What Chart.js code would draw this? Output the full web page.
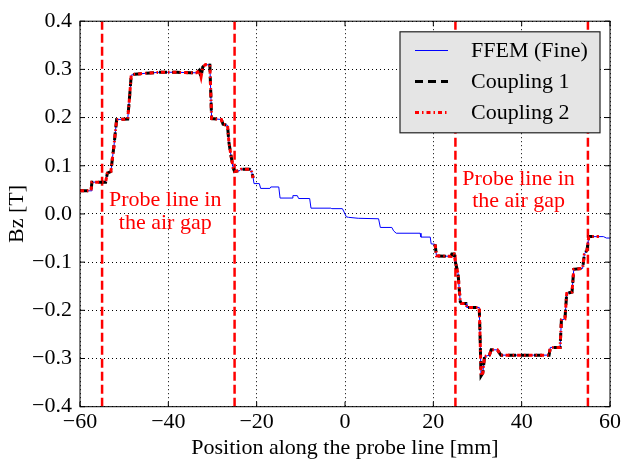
<!DOCTYPE html>
<html>
<head>
<meta charset="utf-8">
<script src="https://cdn.jsdelivr.net/npm/chart.js@4.4.0/dist/chart.umd.min.js"></script>
<style>
  html, body { margin: 0; padding: 0; background: #fff; }
  #wrap { width: 623px; height: 462px; }
</style>
</head>
<body>
<div id="wrap"><canvas id="bz"></canvas></div>
<script>
// FFEM (fine) reference curve
const ffemX = [-60, -57.5, -57.3, -54.2, -53.8, -53.0, -52.6, -52.3, -52.0, -51.7, -49.2, -48.8, -48.4, -47.6, -45, -42, -38, -35, -33.6, -33.0,
  -32.6, -32.2, -31.6, -30.6, -30.2, -28.0, -27.6, -26.6, -26.3, -25.8, -25.3, -25.0, -23.8, -23.5, -21.6, -21.2, -20.8, -20.6, -19.4, -19.1,
  -17.0, -16.8, -15.0, -14.7, -12.0, -11.8, -10.8, -10.5, -8.0, -7.7, -3.2, -3.0, -0.6, -0.2, 0.3, 0.8, 3.0, 7.6, 8.0, 10.6,
  11.0, 11.6, 17.0, 17.2, 19.3, 19.5, 20.4, 20.7, 24.0, 24.2, 24.7, 25.0, 25.6, 25.9, 26.1, 26.4, 27.4, 27.6, 30.4, 30.6,
  30.8, 31.2, 31.6, 32.7, 33.1, 34.5, 35.3, 46.2, 46.5, 48.7, 49.0, 49.8, 50.2, 51.4, 51.8, 53.8, 54.2, 54.8, 55.2, 58.5, 59.2, 60];
const ffemY = [0.048, 0.048, 0.066, 0.066, 0.085, 0.088, 0.12, 0.142, 0.17, 0.196, 0.197, 0.24, 0.288, 0.29, 0.292, 0.294, 0.294, 0.293, 0.293, 0.298,
  0.284, 0.305, 0.31, 0.309, 0.198, 0.196, 0.186, 0.184, 0.15, 0.12, 0.095, 0.088, 0.09, 0.093, 0.093, 0.09, 0.075, 0.063, 0.063, 0.053,
  0.053, 0.056, 0.056, 0.033, 0.033, 0.038, 0.038, 0.032, 0.032, 0.012, 0.012, 0.011, 0.011, 0.004, -0.006, -0.007, -0.009, -0.01, -0.028, -0.028,
  -0.035, -0.04, -0.04, -0.048, -0.048, -0.062, -0.063, -0.087, -0.088, -0.083, -0.083, -0.1, -0.124, -0.16, -0.182, -0.186, -0.186, -0.194, -0.194, -0.26,
  -0.336, -0.33, -0.296, -0.293, -0.282, -0.282, -0.293, -0.293, -0.277, -0.277, -0.22, -0.218, -0.165, -0.162, -0.115, -0.113, -0.083, -0.075, -0.047, -0.047, -0.05, -0.05];

// Coupling 1: only inside the two air-gap zones (null = gap)
const c1X = [-60, -57.5, -57.3, -54.2, -53.8, -53.0, -52.6, -52.3, -52.0, -51.7, -49.2, -48.8, -48.4, -47.6, -45, -42, -38, -35, -33.6, -33.0,
  -32.6, -32.2, -31.6, -30.6, -30.2, -28.0, -27.6, -26.6, -26.3, -25.8, -25.3, -25.0, -23.8, -23.5, -21.6, -21.2, -20.8, null,
  20.4, 20.7, 24.0, 24.2, 24.7, 25.0, 25.6, 25.9, 26.1, 26.4, 27.4, 27.6, 30.4, 30.6, 30.8, 31.2, 31.6, 32.7, 33.1, 34.5,
  35.3, 46.2, 46.5, 48.7, 49.0, 49.8, 50.2, 51.4, 51.8, 53.8, 54.2, 54.8, 55.2, 57.5];
const c1Y = [0.048, 0.048, 0.066, 0.066, 0.085, 0.088, 0.12, 0.142, 0.17, 0.196, 0.197, 0.24, 0.288, 0.29, 0.292, 0.294, 0.294, 0.293, 0.293, 0.298,
  0.284, 0.305, 0.31, 0.309, 0.198, 0.196, 0.186, 0.184, 0.15, 0.12, 0.095, 0.088, 0.09, 0.093, 0.093, 0.09, 0.075, null,
  -0.063, -0.087, -0.088, -0.083, -0.083, -0.1, -0.124, -0.16, -0.182, -0.186, -0.186, -0.194, -0.194, -0.26, -0.336, -0.33, -0.296, -0.293, -0.282, -0.282,
  -0.293, -0.293, -0.277, -0.277, -0.22, -0.218, -0.165, -0.162, -0.115, -0.113, -0.083, -0.075, -0.047, -0.047];

// Coupling 2: same zones
const c2X = [-60, -57.5, -57.3, -54.2, -53.8, -53.0, -52.6, -52.3, -52.0, -51.7, -49.2, -48.8, -48.4, -47.6, -45, -42, -38, -35, -33.6, -33.0,
  -32.6, -32.2, -31.6, -30.6, -30.2, -28.0, -27.6, -26.6, -26.3, -25.8, -25.3, -25.0, -23.8, -23.5, -21.6, -21.2, -20.8, null,
  20.4, 20.7, 24.0, 24.2, 24.7, 25.0, 25.6, 25.9, 26.1, 26.4, 27.4, 27.6, 30.4, 30.6, 30.8, 31.2, 31.6, 32.7, 33.1, 34.5,
  35.3, 46.2, 46.5, 48.7, 49.0, 49.8, 50.2, 51.4, 51.8, 53.8, 54.2, 54.8, 55.2, 57.5];
const c2Y = [0.048, 0.048, 0.066, 0.066, 0.085, 0.088, 0.12, 0.142, 0.17, 0.196, 0.197, 0.24, 0.288, 0.29, 0.292, 0.294, 0.294, 0.293, 0.293, 0.298,
  0.284, 0.305, 0.31, 0.309, 0.198, 0.196, 0.186, 0.184, 0.15, 0.12, 0.095, 0.088, 0.09, 0.093, 0.093, 0.09, 0.075, null,
  -0.063, -0.087, -0.088, -0.083, -0.083, -0.1, -0.124, -0.16, -0.182, -0.186, -0.186, -0.194, -0.194, -0.26, -0.336, -0.33, -0.296, -0.293, -0.282, -0.282,
  -0.293, -0.293, -0.277, -0.277, -0.22, -0.218, -0.165, -0.162, -0.115, -0.113, -0.083, -0.075, -0.047, -0.047];

const probeEdges = [-55, -25, 25, 55];      // air-gap zone limits [mm]
const xTicks = [-60, -40, -20, 0, 20, 40, 60];
const yTicks = [-0.4, -0.3, -0.2, -0.1, 0.0, 0.1, 0.2, 0.3, 0.4];
const seriesNames = ['FFEM (Fine)', 'Coupling 1', 'Coupling 2'];
const noteX = [-40.7, 39.3];
const noteY = [0.016, 0.061];
const noteLines = ['Probe line in', 'the air gap'];

const FONT = '"Liberation Serif", "DejaVu Serif", serif';
const pts = (xs, ys) => xs.map((v, i) => ({ x: v, y: ys[i] }));
const fmt = (v, dec) => (v < 0 ? '\u2212' : '') + Math.abs(v).toFixed(dec);

const datasets = [
  { label: seriesNames[0], data: pts(ffemX, ffemY), borderColor: '#0000ff', borderWidth: 1, order: 3 },
  { label: seriesNames[1], data: pts(c1X, c1Y), borderColor: '#000000', borderWidth: 3, borderDash: [8, 5], order: 2 },
  { label: seriesNames[2], data: pts(c2X, c2Y), borderColor: '#ff0000', borderWidth: 3, borderDash: [4, 3, 1.5, 3], order: 1 }
];
probeEdges.forEach(e => datasets.push({
  label: 'edge', data: pts([e, e], [yTicks[0], yTicks[yTicks.length - 1]]),
  borderColor: '#ff0000', borderWidth: 2.5, borderDash: [9, 4], order: 4
}));
datasets.forEach(d => { d.showLine = true; d.pointRadius = 0; d.fill = false; d.spanGaps = false; });

const overlay = {
  id: 'overlay',
  afterDraw(chart) {
    const { ctx, chartArea: a, scales: { x, y } } = chart;
    ctx.save();
    // inward ticks + frame
    ctx.strokeStyle = '#000';
    ctx.lineWidth = 1;
    ctx.setLineDash([]);
    ctx.beginPath();
    xTicks.forEach(v => {
      const px = x.getPixelForValue(v);
      ctx.moveTo(px, a.bottom); ctx.lineTo(px, a.bottom - 5);
      ctx.moveTo(px, a.top); ctx.lineTo(px, a.top + 5);
    });
    yTicks.forEach(v => {
      const py = y.getPixelForValue(v);
      ctx.moveTo(a.left, py); ctx.lineTo(a.left + 5, py);
      ctx.moveTo(a.right, py); ctx.lineTo(a.right - 5, py);
    });
    ctx.stroke();
    ctx.strokeRect(a.left, a.top, a.right - a.left, a.bottom - a.top);

    // notes
    ctx.fillStyle = '#ff0000';
    ctx.font = '22px ' + FONT;
    ctx.textAlign = 'center';
    ctx.textBaseline = 'alphabetic';
    noteX.forEach((v, i) => {
      const px = x.getPixelForValue(v), py = y.getPixelForValue(noteY[i]);
      noteLines.forEach((t, j) => ctx.fillText(t, px, py + j * 22.5));
    });

    // legend box
    const bw = 200, bh = 101;
    const bx = a.right - 10 - bw, by = a.top + 10.6;
    ctx.fillStyle = '#e5e5e5';
    ctx.fillRect(bx, by, bw, bh);
    ctx.strokeStyle = '#222';
    ctx.lineWidth = 1.2;
    ctx.strokeRect(bx, by, bw, bh);
    ctx.textAlign = 'left';
    ctx.textBaseline = 'middle';
    for (let i = 0; i < 3; i++) {
      const d = chart.data.datasets[i];
      const ry = Math.round(by + 17.7 + i * 31) + 0.5;
      ctx.beginPath();
      ctx.strokeStyle = d.borderColor;
      ctx.lineWidth = d.borderWidth;
      ctx.setLineDash(d.borderDash || []);
      ctx.moveTo(bx + 15, ry);
      ctx.lineTo(bx + 48, ry);
      ctx.stroke();
      ctx.fillStyle = '#000';
      ctx.fillText(d.label, bx + 71, ry + 1);
    }
    ctx.restore();
  }
};

new Chart(document.getElementById('bz'), {
  type: 'scatter',
  data: { datasets },
  options: {
    responsive: true,
    maintainAspectRatio: false,
    animation: false,
    layout: { padding: { left: 0, right: 11.5, top: 16.7, bottom: 0 } },
    plugins: { legend: { display: false }, tooltip: { enabled: false } },
    scales: {
      x: {
        type: 'linear', min: -60, max: 60,
        afterBuildTicks: s => { s.ticks = xTicks.map(v => ({ value: v })); },
        afterFit: s => { s.height = 55.3; },
        grid: { color: '#000', lineWidth: 1, drawTicks: false },
        border: { display: false, dash: [1, 3] },
        ticks: { color: '#000', font: { family: FONT, size: 22 }, padding: 2, maxRotation: 0, callback: v => fmt(v, 0) },
        title: { display: true, text: 'Position along the probe line [mm]', color: '#000',
                 font: { family: FONT, size: 22 }, padding: { top: 0, bottom: 1 } }
      },
      y: {
        type: 'linear', min: -0.4, max: 0.4,
        afterBuildTicks: s => { s.ticks = yTicks.map(v => ({ value: v })); },
        afterFit: s => { s.width = 80; },
        grid: { color: '#000', lineWidth: 1, drawTicks: false },
        border: { display: false, dash: [1, 3] },
        ticks: { color: '#000', font: { family: FONT, size: 22 }, padding: 8, callback: v => fmt(v, 1) },
        title: { display: true, text: 'Bz [T]', color: '#000',
                 font: { family: FONT, size: 22 }, padding: { top: 4, bottom: 0 } }
      }
    }
  },
  plugins: [overlay]
});
</script>
</body>
</html>
